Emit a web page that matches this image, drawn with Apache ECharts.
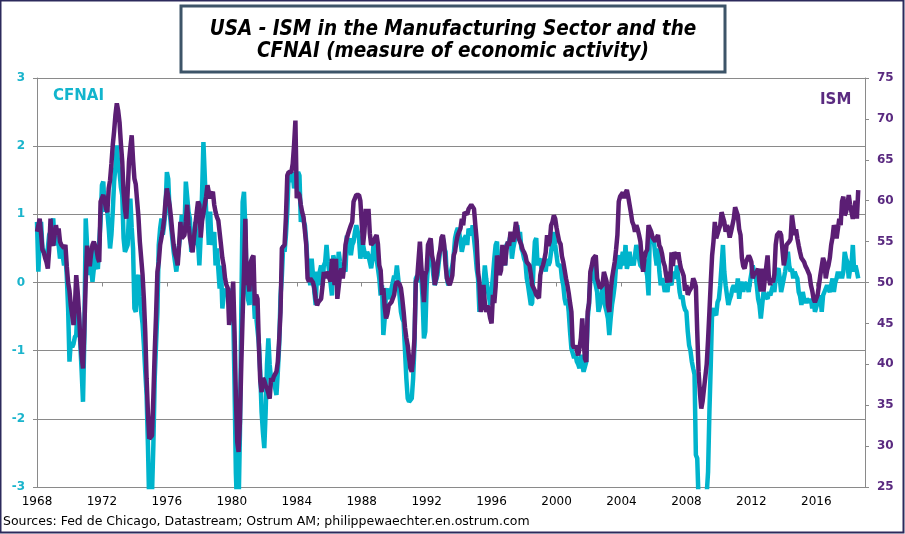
<!DOCTYPE html>
<html>
<head>
<meta charset="utf-8">
<script src="https://cdn.jsdelivr.net/npm/echarts@6/dist/echarts.min.js"></script>
<style>
html,body{margin:0;padding:0;background:#fff;}
#chart{width:905px;height:534px;}
</style>
</head>
<body>
<div id="chart"></div>
<script>
// Monthly data, starting January 1968, ending August 2018
var startYear = 1968;
var xTickLabels = ['1968','1972','1976','1980','1984','1988','1992','1996','2000','2004','2008','2012','2016'];
var leftTicks = [-3,-2,-1,0,1,2,3];
var rightTicks = [25,30,35,40,45,50,55,60,65,70,75];

var ismValues = [
/*1968*/ 56.2,57,57.8,56,54,53.7,53,52.5,51.7,54,57.8,55,
/*1969*/ 54.5,54.5,57,56,56.6,55,54.6,54.5,54.2,54.6,52,50,
/*1970*/ 49,47.2,46,44.8,47,50.9,49,46.4,43,41,39.5,44.4,
/*1971*/ 50,54.5,53,52,53.5,54.6,55,55,54,53,52.5,59.9,
/*1972*/ 60,60.7,60,59,58.6,61.5,62.5,64.5,66.8,68.5,70.5,71.9,
/*1973*/ 71,69.6,67,64.8,61,59,57.8,61,64.8,66.5,68,65,
/*1974*/ 62.7,62,61.9,58,55,55,51,48,44,38.3,34,30.9,
/*1975*/ 30.9,31.3,36,41.5,46,51.3,52.5,54.6,55.5,56.5,57.8,60,
/*1976*/ 61.5,61.5,59.5,58,56.2,54.6,53.5,53,52.1,54.5,57.4,55.4,
/*1977*/ 55.4,55.8,57.5,59.5,57,55.5,54.5,53.7,55.4,57,58.5,59.9,
/*1978*/ 59.5,55.5,57.5,58.5,59.5,60.5,61.9,61,60.3,60.5,61.1,59.5,
/*1979*/ 58.6,58,57.6,57.4,54.6,53,52.1,50.5,49.7,49.3,44.8,46,
/*1980*/ 48,50.1,44,36,30.5,29.3,33,40,46,51.3,57.8,49.7,
/*1981*/ 50.5,48.9,52.5,53,53.3,47.2,48.5,48,42.3,38,36.6,38.3,
/*1982*/ 38,37.4,37,36.5,35.8,38.3,37.9,38.5,38.8,39.1,40.3,43,
/*1983*/ 46.4,54.2,54,54.6,58,63.1,63.5,63.5,63.5,64.5,66.8,69.8,
/*1984*/ 60.3,61,60.7,59.5,58.6,58,57.8,54.6,50.5,50.1,50.5,50.5,
/*1985*/ 50,49.3,48,47.2,47.6,47.5,48,49.5,51.3,50.5,51.3,51,
/*1986*/ 51,50.1,52.9,51,49.7,52.9,48,49.5,51,51.7,50.5,52,
/*1987*/ 54.6,55.4,56,56.5,57,57.4,59.9,60,60.7,60.5,60.7,60,
/*1988*/ 59.9,54.6,56.2,59,57.5,59,56,54.6,54.6,55,55.5,55.8,
/*1989*/ 54.7,52.1,51.5,48.5,49.3,47,45.6,46.2,47.2,47,47.6,47.4,
/*1990*/ 48.5,49.7,50.1,50.1,49.8,49.3,48,46.4,44.5,43.2,42.3,40.8,
/*1991*/ 39.5,39.1,40.7,43.2,50.1,50.5,50.6,55,52.1,50,47.6,50.9,
/*1992*/ 51.5,54.6,55,55.4,53.3,52.5,49.7,50.5,50.5,53.3,54,55.5,
/*1993*/ 55.8,54.6,52.1,50.5,50,49.7,50.2,50.9,53.3,53.8,55,55.8,
/*1994*/ 56,56.6,57.8,57,58.6,58.6,58.3,59,59.2,59.5,59.5,59,
/*1995*/ 57,55.1,51.3,50,46.4,47.5,49.7,47.5,46.4,47.2,46.5,45.6,
/*1996*/ 45,48.5,47.5,49.5,53.3,52.5,50.9,51.5,54.6,53,52.1,54,
/*1997*/ 55,54.5,56.2,55.5,55,56,57.4,56.5,55.4,55.5,54.6,54,
/*1998*/ 53.7,53.3,52.5,52.5,52.1,51,49.7,49.5,49,48.5,48.5,48.1,
/*1999*/ 50.9,51.7,52.1,52.8,53.7,55.8,54.5,55,57,57.4,58.2,57.8,
/*2000*/ 56.7,55.8,55,54.7,53.2,52.5,51.5,50.5,49.7,48.7,47.5,46.4,
/*2001*/ 42.3,42,42.3,42.5,41.1,42,43.2,45.6,43,40.7,40.3,46.4,
/*2002*/ 47.5,51.3,52,52.9,53,53.3,50.5,50.3,49.3,49.5,49.7,51.3,
/*2003*/ 51.3,50.1,47.2,46.4,49,50.5,51.5,52.5,54,55.8,59.9,60.5,
/*2004*/ 60.7,61,60.3,61,61.3,60.5,59.5,58.5,57.4,57,56.2,57,
/*2005*/ 56.5,55.8,55,52.9,51.3,53,53.7,54,57,57.2,56.2,55.5,
/*2006*/ 55.4,55,55.5,55.8,54.5,54.2,53.5,52.5,52,50.9,50,51.3,
/*2007*/ 50,53.7,52,53.7,53.5,52.9,53.7,52.5,51.7,51.3,50.8,49,
/*2008*/ 49.7,48.5,48.9,49,49.5,50.5,50.1,49.5,44,39.1,36.5,34.6,
/*2009*/ 35.5,37,38.5,40,43,46.4,50,53.3,55,57.4,55.4,55.5,
/*2010*/ 56.5,57,58.6,58,57.4,56.2,57,56.5,55.5,56.2,57,57.8,
/*2011*/ 59.2,59,58.2,56.5,55.8,53,52,51.7,52.5,52.5,53.3,53,
/*2012*/ 52.5,50.5,51,50.9,51.3,51.7,50,48.9,51.7,48.9,50.5,50.5,
/*2013*/ 53.3,50.5,49.7,50.5,50,51,54.6,55.8,56,56.2,55.8,56,
/*2014*/ 52.1,53,54.6,54.8,55,55.3,58.2,57,55.8,56.5,55.4,54.5,
/*2015*/ 53.7,53,52.9,52.5,52,51.7,51.5,50.9,49.7,49,48,47.6,
/*2016*/ 47.6,48.5,49.7,50.9,51,53,52.5,50.5,51.5,52.1,53,54.6,
/*2017*/ 55.5,57,56.5,55.4,56.6,57.8,57,59.9,60.5,58.2,58.6,59.5,
/*2018*/ 60.7,59.5,58.6,57.8,58.6,60,57.8,61.3
];

var cfnaiValues = [
/*1968*/ 0.89,0.16,0.6,0.89,0.5,0.45,0.4,0.35,0.5,0.7,0.74,0.85,
/*1969*/ 0.94,0.55,0.6,0.69,0.55,0.35,0.5,0.4,0.25,0.4,0.1,-0.38,
/*1970*/ -1.16,-0.87,-0.95,-0.9,-0.8,-0.77,-0.33,-0.45,-0.9,-1.3,-1.75,-0.8,
/*1971*/ 0.94,0.55,0.11,0.3,0.2,0.01,0.2,0.55,0.25,0.2,0.6,0.9,
/*1972*/ 1.43,1.48,1.04,1.2,1.04,0.8,0.5,0.7,1.04,1.48,1.7,2.01,
/*1973*/ 1.72,1.62,1.4,1.28,0.65,0.45,0.5,0.55,1.04,1.23,0.8,0.5,
/*1974*/ -0.38,-0.43,0.06,0.11,-0.2,-0.43,-0.6,-0.92,-1.3,-1.65,-2.39,-3.3,
/*1975*/ -3.4,-3.1,-2.39,-1.41,-0.9,-0.43,0.55,0.79,0.94,0.7,0.85,1.1,
/*1976*/ 1.62,1.52,1.04,0.84,0.65,0.45,0.3,0.16,0.16,0.55,0.7,0.99,
/*1977*/ 0.99,0.75,1.48,1.48,1.04,0.94,0.45,0.74,0.55,0.89,0.55,0.6,
/*1978*/ 0.25,0.69,1.3,2.06,1.57,1.04,1.0,0.55,1.04,0.55,0.65,0.74,
/*1979*/ 0.25,0.5,0.2,-0.09,0.25,-0.38,-0.2,-0.09,-0.15,-0.19,-0.1,-0.14,
/*1980*/ -0.15,-0.4,-1.5,-2.8,-3.4,-3.3,-2.2,-0.43,1.18,1.33,0.79,-0.09,
/*1981*/ -0.25,-0.33,0.1,0.21,-0.14,-0.53,-0.5,-0.48,-0.9,-1.31,-1.9,-2.2,
/*1982*/ -2.43,-1.9,-1.2,-0.82,-1.21,-1.41,-1.36,-1.46,-1.55,-1.65,-1.31,-0.92,
/*1983*/ -0.2,0.1,0.55,0.45,0.7,1.04,1.57,1.52,1.48,1.62,1.38,1.52,
/*1984*/ 1.55,1.62,1.57,0.89,0.99,0.9,0.84,0.6,0.25,0.1,-0.04,0.35,
/*1985*/ 0.35,-0.14,-0.33,0.16,-0.04,0.16,0.25,-0.04,0.25,0.3,0.55,0.3,
/*1986*/ 0.16,0.16,-0.19,0.4,0.3,0.16,0.06,0.45,0.3,0.16,0.25,0.2,
/*1987*/ 0.16,0.69,0.5,0.65,0.4,0.55,0.6,0.74,0.84,0.75,0.65,0.35,
/*1988*/ 0.35,0.55,0.45,0.35,0.45,0.4,0.3,0.21,0.35,0.65,0.5,0.35,
/*1989*/ 0.35,0.06,-0.19,-0.04,-0.77,-0.53,-0.14,-0.09,-0.2,-0.24,-0.09,-0.1,
/*1990*/ 0.1,0.06,0.25,0.06,-0.2,-0.43,-0.53,-0.58,-1.0,-1.41,-1.7,-1.75,
/*1991*/ -1.75,-1.7,-1.41,-0.92,0.06,0.1,0.01,0.45,0.1,-0.24,-0.82,-0.72,
/*1992*/ -0.04,0.25,0.45,0.6,0.3,0.1,-0.04,-0.04,0.11,0.3,0.45,0.55,
/*1993*/ 0.65,0.5,0.45,0.06,-0.04,0.01,0.16,0.25,0.4,0.65,0.74,0.8,
/*1994*/ 0.74,0.6,0.45,0.55,0.65,0.69,0.55,0.79,0.8,0.69,0.84,0.84,
/*1995*/ 0.45,0.2,0.06,-0.43,-0.3,-0.24,-0.04,0.25,0.06,-0.09,-0.2,-0.33,
/*1996*/ -0.14,0.1,0.35,0.55,0.6,0.25,0.35,0.4,0.35,0.45,0.25,0.55,
/*1997*/ 0.55,0.6,0.69,0.35,0.5,0.6,0.74,0.84,0.65,0.74,0.5,0.45,
/*1998*/ 0.35,0.3,0.06,-0.05,-0.19,-0.33,-0.3,0.25,0.6,0.65,0.25,0.35,
/*1999*/ 0.3,0.2,0.35,0.25,0.16,0.35,0.25,0.3,0.3,0.6,0.74,0.55,
/*2000*/ 0.55,0.25,0.25,0.25,0.06,-0.04,-0.24,-0.33,-0.24,-0.43,-0.72,-0.97,
/*2001*/ -0.97,-1.11,-1.05,-1.16,-1.2,-1.26,-1.06,-1.2,-1.31,-1.31,-1.16,-0.53,
/*2002*/ -0.33,0.06,0.2,0.25,0.06,-0.04,-0.14,-0.43,-0.35,-0.24,-0.04,-0.24,
/*2003*/ -0.35,-0.43,-0.53,-0.77,-0.53,-0.33,-0.2,-0.04,0.25,0.25,0.4,0.2,
/*2004*/ 0.2,0.45,0.25,0.55,0.2,0.3,0.45,0.25,0.35,0.25,0.4,0.55,
/*2005*/ 0.45,0.35,0.25,0.25,0.2,0.35,0.2,0.1,-0.19,0.79,0.6,0.6,
/*2006*/ 0.6,0.4,0.25,0.5,0.16,-0.04,0.06,0.0,-0.14,-0.04,-0.14,0.06,
/*2007*/ 0.0,-0.04,0.16,0.1,0.06,0.25,0.06,-0.14,-0.24,-0.19,-0.33,-0.4,
/*2008*/ -0.43,-0.72,-0.92,-1.0,-1.16,-1.26,-1.35,-2.53,-2.58,-3.2,-3.5,-3.9,
/*2009*/ -3.9,-3.7,-3.4,-3.1,-2.78,-1.9,-1.21,-0.43,-0.38,-0.45,-0.48,-0.29,
/*2010*/ -0.24,-0.04,0.25,0.55,0.16,-0.04,-0.19,-0.33,-0.25,-0.19,-0.09,-0.04,
/*2011*/ -0.1,-0.14,0.06,-0.24,-0.04,0.01,-0.14,0.0,0.01,-0.04,-0.14,0.01,
/*2012*/ 0.01,0.25,0.16,0.1,-0.04,-0.24,-0.33,-0.53,-0.33,-0.14,-0.19,-0.2,
/*2013*/ -0.24,-0.14,-0.19,-0.19,-0.04,-0.14,0.06,0.16,0.21,0.06,-0.14,-0.04,
/*2014*/ -0.04,0.16,0.3,0.45,0.25,0.16,0.2,0.06,0.16,0.1,0.06,-0.14,
/*2015*/ -0.2,-0.33,-0.14,-0.24,-0.3,-0.24,-0.26,-0.29,-0.24,-0.38,-0.24,-0.43,
/*2016*/ -0.43,-0.29,-0.25,-0.19,-0.43,-0.19,-0.14,-0.14,-0.04,-0.1,-0.14,-0.04,
/*2017*/ 0.06,-0.14,0.0,0.06,0.16,0.06,0.16,0.06,0.16,0.45,0.35,0.3,
/*2018*/ 0.06,0.2,0.25,0.55,0.16,0.25,0.16,0.06
];

function toPairs(values){
  return values.map(function(v,i){ return [startYear + i/12, v]; });
}

var CYAN = '#00b4cc';
var PURPLE = '#5b1e74';
var GRID = '#8a8a8a';
var FONT = 'DejaVu Sans, Verdana, sans-serif';
var TITLE_FONT = 'italic bold 20.5px "DejaVu Sans Condensed", "DejaVu Sans", sans-serif';

var chart = echarts.init(document.getElementById('chart'), null, {renderer:'canvas'});
chart.setOption({
  animation: false,
  backgroundColor: '#fff',
  grid: { left: 37, right: 40, top: 78, bottom: 47, containLabel: false },
  xAxis: [{
    type: 'value', min: 1968, max: 2019, interval: 4, position: 'bottom',
    axisLine: { show: true, onZero: false, lineStyle: { color: GRID, width: 1 } },
    axisTick: { show: false },
    splitLine: { show: false },
    axisLabel: {
      color: '#000', fontSize: 12, fontFamily: FONT, margin: 9,
      showMaxLabel: false,
      formatter: function(v){ var s = String(Math.round(v)); return xTickLabels.indexOf(s) >= 0 ? s : ''; }
    }
  },{
    type: 'value', min: 1968, max: 2019, interval: 4, position: 'bottom',
    axisLine: { show: true, onZero: true, onZeroAxisIndex: 0, lineStyle: { color: GRID, width: 1 } },
    axisTick: { show: true, length: 4, lineStyle: { color: GRID } },
    splitLine: { show: false },
    axisLabel: { show: false }
  }],
  yAxis: [{
    type: 'value', min: leftTicks[0], max: leftTicks[leftTicks.length-1], interval: 1, position: 'left',
    axisLine: { show: true, lineStyle: { color: GRID } },
    axisTick: { show: true, length: 4, lineStyle: { color: GRID } },
    splitLine: { show: true, lineStyle: { color: GRID, width: 1 } },
    axisLabel: { color: '#1ab4cc', fontWeight: 'bold', fontSize: 12, fontFamily: FONT, margin: 12 }
  },{
    type: 'value', min: rightTicks[0], max: rightTicks[rightTicks.length-1], interval: 5, position: 'right',
    axisLine: { show: true, lineStyle: { color: GRID } },
    axisTick: { show: true, length: 4, lineStyle: { color: GRID } },
    splitLine: { show: false },
    axisLabel: { color: '#5a2a80', fontWeight: 'bold', fontSize: 12, fontFamily: FONT, margin: 12 }
  }],
  graphic: [
    { type: 'rect', z: 10, shape: { x: 0.5, y: 0.5, width: 903, height: 532 },
      style: { fill: 'none', stroke: '#2c2a5c', lineWidth: 2 } },
    { type: 'rect', z: 10, shape: { x: 181, y: 6, width: 544, height: 66 },
      style: { fill: '#fff', stroke: '#3d5468', lineWidth: 3 } },
    { type: 'text', z: 11, x: 453, y: 30,
      style: { text: 'USA - ISM in the Manufacturing Sector and the', fill: '#000', font: TITLE_FONT, textAlign: 'center', textVerticalAlign: 'middle' } },
    { type: 'text', z: 11, x: 453, y: 52,
      style: { text: 'CFNAI (measure of economic activity)', fill: '#000', font: TITLE_FONT, textAlign: 'center', textVerticalAlign: 'middle' } },
    { type: 'text', z: 10, left: 53, top: 89,
      style: { text: 'CFNAI', fill: '#12b5cd', font: 'bold 15px ' + FONT } },
    { type: 'text', z: 10, left: 820, top: 93,
      style: { text: 'ISM', fill: '#5a2a80', font: 'bold 15px ' + FONT } },
    { type: 'text', z: 10, left: 3, top: 515,
      style: { text: 'Sources: Fed de Chicago, Datastream; Ostrum AM; philippewaechter.en.ostrum.com', fill: '#000', font: '12.5px ' + FONT } }
  ],
  series: [{
    name: 'CFNAI', type: 'line', xAxisIndex: 0, yAxisIndex: 0,
    data: toPairs(cfnaiValues), showSymbol: false, clip: true,
    lineStyle: { color: CYAN, width: 4.5 }, itemStyle: { color: CYAN }, z: 2
  },{
    name: 'ISM', type: 'line', xAxisIndex: 0, yAxisIndex: 1,
    data: toPairs(ismValues), showSymbol: false, clip: true,
    lineStyle: { color: PURPLE, width: 4.5 }, itemStyle: { color: PURPLE }, z: 3
  }]
});
</script>
</body>
</html>
